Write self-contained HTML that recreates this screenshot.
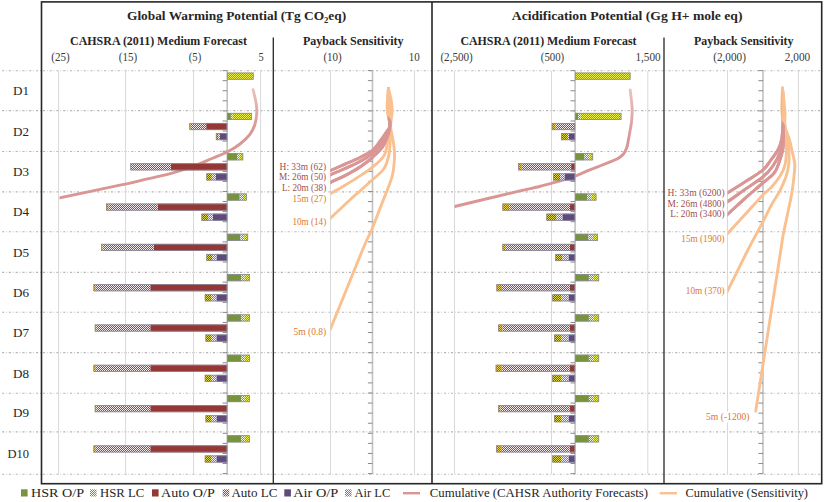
<!DOCTYPE html><html><head><meta charset="utf-8"><style>html,body{margin:0;padding:0;background:#fff;}svg{display:block;}</style></head><body><svg width="825" height="502" viewBox="0 0 825 502" font-family="Liberation Serif, serif">

<defs>
<pattern id="pY" width="2" height="2" patternUnits="userSpaceOnUse">
 <rect width="2" height="2" fill="#eef04c"/>
 <rect x="1" y="0" width="1" height="1" fill="#84a034"/>
 <rect x="0" y="1" width="1" height="1" fill="#84a034"/>
</pattern>
<pattern id="pHW" width="2" height="2" patternUnits="userSpaceOnUse">
 <rect width="2" height="2" fill="#f6f8f0"/>
 <rect x="1" y="0" width="1" height="1" fill="#77933c"/>
 <rect x="0" y="1" width="1" height="1" fill="#77933c"/>
</pattern>
<pattern id="pAP" width="2" height="2" patternUnits="userSpaceOnUse">
 <rect width="2" height="2" fill="#f6ecec"/>
 <rect x="1" y="0" width="1" height="1" fill="#b03c3c"/>
 <rect x="0" y="1" width="1" height="1" fill="#b03c3c"/>
</pattern>
<pattern id="pAY" width="2" height="2" patternUnits="userSpaceOnUse">
 <rect width="2" height="2" fill="#f2cc40"/>
 <rect x="1" y="0" width="1" height="1" fill="#c0502c"/>
 <rect x="0" y="1" width="1" height="1" fill="#c0502c"/>
</pattern>
<pattern id="pIY" width="2" height="2" patternUnits="userSpaceOnUse">
 <rect width="2" height="2" fill="#e8dc44"/>
 <rect x="1" y="0" width="1" height="1" fill="#5a4690"/>
 <rect x="0" y="1" width="1" height="1" fill="#5a4690"/>
</pattern>
<pattern id="pIW" width="2" height="2" patternUnits="userSpaceOnUse">
 <rect width="2" height="2" fill="#f6f2fa"/>
 <rect x="1" y="0" width="1" height="1" fill="#8470a8"/>
 <rect x="0" y="1" width="1" height="1" fill="#8470a8"/>
</pattern>
<linearGradient id="gG" gradientUnits="userSpaceOnUse" x1="0" y1="88" x2="0" y2="128">
 <stop offset="0" stop-color="#ecc2c1"/><stop offset="1" stop-color="#d99694"/>
</linearGradient>
<linearGradient id="gA" gradientUnits="userSpaceOnUse" x1="0" y1="88" x2="0" y2="140">
 <stop offset="0" stop-color="#ecc2c1"/><stop offset="1" stop-color="#d99694"/>
</linearGradient>
</defs>

<rect width="825" height="502" fill="#ffffff"/>
<line x1="2" y1="70.80" x2="821" y2="70.80" stroke="#b6b6b6" stroke-width="1.1" stroke-dasharray="2.2 1.8 0.7 2.1"/>
<line x1="2" y1="110.60" x2="821" y2="110.60" stroke="#b6b6b6" stroke-width="1.1" stroke-dasharray="2.2 1.8 0.7 2.1"/>
<line x1="2" y1="151.50" x2="821" y2="151.50" stroke="#b6b6b6" stroke-width="1.1" stroke-dasharray="2.2 1.8 0.7 2.1"/>
<line x1="2" y1="191.90" x2="821" y2="191.90" stroke="#b6b6b6" stroke-width="1.1" stroke-dasharray="2.2 1.8 0.7 2.1"/>
<line x1="2" y1="231.70" x2="821" y2="231.70" stroke="#b6b6b6" stroke-width="1.1" stroke-dasharray="2.2 1.8 0.7 2.1"/>
<line x1="2" y1="272.40" x2="821" y2="272.40" stroke="#b6b6b6" stroke-width="1.1" stroke-dasharray="2.2 1.8 0.7 2.1"/>
<line x1="2" y1="312.30" x2="821" y2="312.30" stroke="#b6b6b6" stroke-width="1.1" stroke-dasharray="2.2 1.8 0.7 2.1"/>
<line x1="2" y1="352.60" x2="821" y2="352.60" stroke="#b6b6b6" stroke-width="1.1" stroke-dasharray="2.2 1.8 0.7 2.1"/>
<line x1="2" y1="393.30" x2="821" y2="393.30" stroke="#b6b6b6" stroke-width="1.1" stroke-dasharray="2.2 1.8 0.7 2.1"/>
<line x1="2" y1="431.90" x2="821" y2="431.90" stroke="#b6b6b6" stroke-width="1.1" stroke-dasharray="2.2 1.8 0.7 2.1"/>
<line x1="2" y1="474.20" x2="821" y2="474.20" stroke="#b6b6b6" stroke-width="1.1" stroke-dasharray="2.2 1.8 0.7 2.1"/>
<line x1="58.6" y1="71" x2="58.6" y2="474" stroke="#d9d9d9" stroke-width="1"/>
<line x1="125.6" y1="71" x2="125.6" y2="474" stroke="#d9d9d9" stroke-width="1"/>
<line x1="193.5" y1="71" x2="193.5" y2="474" stroke="#d9d9d9" stroke-width="1"/>
<line x1="260.6" y1="71" x2="260.6" y2="474" stroke="#d9d9d9" stroke-width="1"/>
<line x1="330.5" y1="71" x2="330.5" y2="474" stroke="#d9d9d9" stroke-width="1"/>
<line x1="414.5" y1="71" x2="414.5" y2="474" stroke="#d9d9d9" stroke-width="1"/>
<line x1="454.5" y1="71" x2="454.5" y2="474" stroke="#d9d9d9" stroke-width="1"/>
<line x1="551.5" y1="71" x2="551.5" y2="474" stroke="#d9d9d9" stroke-width="1"/>
<line x1="647.8" y1="71" x2="647.8" y2="474" stroke="#d9d9d9" stroke-width="1"/>
<line x1="727.5" y1="71" x2="727.5" y2="474" stroke="#d9d9d9" stroke-width="1"/>
<line x1="798.4" y1="71" x2="798.4" y2="474" stroke="#d9d9d9" stroke-width="1"/>
<line x1="227.2" y1="70.6" x2="227.2" y2="474" stroke="#c2c2c2" stroke-width="1.6"/>
<path d="M222.6,70.60H227.2M222.6,80.67H227.2M222.6,90.75H227.2M222.6,100.82H227.2M222.6,110.90H227.2M222.6,120.97H227.2M222.6,131.05H227.2M222.6,141.12H227.2M222.6,151.20H227.2M222.6,161.27H227.2M222.6,171.35H227.2M222.6,181.42H227.2M222.6,191.50H227.2M222.6,201.57H227.2M222.6,211.65H227.2M222.6,221.72H227.2M222.6,231.80H227.2M222.6,241.87H227.2M222.6,251.95H227.2M222.6,262.02H227.2M222.6,272.10H227.2M222.6,282.17H227.2M222.6,292.25H227.2M222.6,302.32H227.2M222.6,312.40H227.2M222.6,322.47H227.2M222.6,332.55H227.2M222.6,342.62H227.2M222.6,352.70H227.2M222.6,362.77H227.2M222.6,372.85H227.2M222.6,382.92H227.2M222.6,393.00H227.2M222.6,403.07H227.2M222.6,413.15H227.2M222.6,423.23H227.2M222.6,433.30H227.2M222.6,443.38H227.2M222.6,453.45H227.2M222.6,463.52H227.2M222.6,473.60H227.2" stroke="#8a8a8a" stroke-width="1"/>
<line x1="372.5" y1="70.6" x2="372.5" y2="474" stroke="#c2c2c2" stroke-width="1.6"/>
<path d="M367.9,70.60H372.5M367.9,80.67H372.5M367.9,90.75H372.5M367.9,100.82H372.5M367.9,110.90H372.5M367.9,120.97H372.5M367.9,131.05H372.5M367.9,141.12H372.5M367.9,151.20H372.5M367.9,161.27H372.5M367.9,171.35H372.5M367.9,181.42H372.5M367.9,191.50H372.5M367.9,201.57H372.5M367.9,211.65H372.5M367.9,221.72H372.5M367.9,231.80H372.5M367.9,241.87H372.5M367.9,251.95H372.5M367.9,262.02H372.5M367.9,272.10H372.5M367.9,282.17H372.5M367.9,292.25H372.5M367.9,302.32H372.5M367.9,312.40H372.5M367.9,322.47H372.5M367.9,332.55H372.5M367.9,342.62H372.5M367.9,352.70H372.5M367.9,362.77H372.5M367.9,372.85H372.5M367.9,382.92H372.5M367.9,393.00H372.5M367.9,403.07H372.5M367.9,413.15H372.5M367.9,423.23H372.5M367.9,433.30H372.5M367.9,443.38H372.5M367.9,453.45H372.5M367.9,463.52H372.5M367.9,473.60H372.5" stroke="#8a8a8a" stroke-width="1"/>
<line x1="575.1" y1="70.6" x2="575.1" y2="474" stroke="#c2c2c2" stroke-width="1.6"/>
<path d="M570.5,70.60H575.1M570.5,80.67H575.1M570.5,90.75H575.1M570.5,100.82H575.1M570.5,110.90H575.1M570.5,120.97H575.1M570.5,131.05H575.1M570.5,141.12H575.1M570.5,151.20H575.1M570.5,161.27H575.1M570.5,171.35H575.1M570.5,181.42H575.1M570.5,191.50H575.1M570.5,201.57H575.1M570.5,211.65H575.1M570.5,221.72H575.1M570.5,231.80H575.1M570.5,241.87H575.1M570.5,251.95H575.1M570.5,262.02H575.1M570.5,272.10H575.1M570.5,282.17H575.1M570.5,292.25H575.1M570.5,302.32H575.1M570.5,312.40H575.1M570.5,322.47H575.1M570.5,332.55H575.1M570.5,342.62H575.1M570.5,352.70H575.1M570.5,362.77H575.1M570.5,372.85H575.1M570.5,382.92H575.1M570.5,393.00H575.1M570.5,403.07H575.1M570.5,413.15H575.1M570.5,423.23H575.1M570.5,433.30H575.1M570.5,443.38H575.1M570.5,453.45H575.1M570.5,463.52H575.1M570.5,473.60H575.1" stroke="#8a8a8a" stroke-width="1"/>
<line x1="763.0" y1="70.6" x2="763.0" y2="474" stroke="#c2c2c2" stroke-width="1.6"/>
<path d="M758.4,70.60H763.0M758.4,80.67H763.0M758.4,90.75H763.0M758.4,100.82H763.0M758.4,110.90H763.0M758.4,120.97H763.0M758.4,131.05H763.0M758.4,141.12H763.0M758.4,151.20H763.0M758.4,161.27H763.0M758.4,171.35H763.0M758.4,181.42H763.0M758.4,191.50H763.0M758.4,201.57H763.0M758.4,211.65H763.0M758.4,221.72H763.0M758.4,231.80H763.0M758.4,241.87H763.0M758.4,251.95H763.0M758.4,262.02H763.0M758.4,272.10H763.0M758.4,282.17H763.0M758.4,292.25H763.0M758.4,302.32H763.0M758.4,312.40H763.0M758.4,322.47H763.0M758.4,332.55H763.0M758.4,342.62H763.0M758.4,352.70H763.0M758.4,362.77H763.0M758.4,372.85H763.0M758.4,382.92H763.0M758.4,393.00H763.0M758.4,403.07H763.0M758.4,413.15H763.0M758.4,423.23H763.0M758.4,433.30H763.0M758.4,443.38H763.0M758.4,453.45H763.0M758.4,463.52H763.0M758.4,473.60H763.0" stroke="#8a8a8a" stroke-width="1"/>
<clipPath id="cg"><rect x="59.5" y="60" width="213" height="420"/></clipPath>
<clipPath id="cgs"><rect x="330.5" y="60" width="101" height="420"/></clipPath>
<clipPath id="ca"><rect x="454.6" y="60" width="209" height="420"/></clipPath>
<clipPath id="cas"><rect x="727.8" y="60" width="93" height="420"/></clipPath>
<path d="M253.10,89.60 C253.60,91.83 255.48,99.18 256.10,103.00 C256.72,106.82 257.00,108.92 256.80,112.50 C256.60,116.08 256.05,120.87 254.90,124.50 C253.75,128.13 252.38,131.05 249.90,134.30 C247.42,137.55 243.72,141.08 240.00,144.00 C236.28,146.92 232.27,149.38 227.60,151.80 C222.93,154.22 218.27,155.88 212.00,158.50 C205.73,161.12 197.25,164.88 190.00,167.50 C182.75,170.12 176.13,172.17 168.50,174.20 C160.87,176.23 152.28,177.87 144.20,179.70 C136.12,181.53 134.27,182.15 120.00,185.20 C105.73,188.25 70.27,195.53 58.60,198.00 C46.93,200.47 51.43,199.67 50.00,200.00" fill="none" stroke="url(#gG)" stroke-width="2.9" stroke-linecap="round" clip-path="url(#cg)"/>
<path d="M630.20,90.00 C630.43,92.00 631.27,98.50 631.60,102.00 C631.93,105.50 632.22,107.67 632.20,111.00 C632.18,114.33 631.87,118.67 631.50,122.00 C631.13,125.33 630.52,128.00 630.00,131.00 C629.48,134.00 628.93,137.25 628.40,140.00 C627.87,142.75 627.62,145.17 626.80,147.50 C625.98,149.83 625.05,152.13 623.50,154.00 C621.95,155.87 619.93,157.32 617.50,158.70 C615.07,160.08 612.32,160.90 608.90,162.30 C605.48,163.70 600.98,165.50 597.00,167.10 C593.02,168.70 588.53,170.43 585.00,171.90 C581.47,173.37 579.52,174.52 575.80,175.90 C572.08,177.28 566.67,179.00 562.70,180.20 C558.73,181.40 555.88,182.05 552.00,183.10 C548.12,184.15 544.73,185.20 539.40,186.50 C534.07,187.80 528.23,188.98 520.00,190.90 C511.77,192.82 500.88,195.40 490.00,198.00 C479.12,200.60 462.20,204.67 454.70,206.50 C447.20,208.33 446.62,208.58 445.00,209.00" fill="none" stroke="url(#gA)" stroke-width="2.9" stroke-linecap="round" clip-path="url(#ca)"/>
<rect x="227.20" y="72.60" width="26.40" height="7.1" fill="url(#pY)"/><rect x="227.60" y="73.00" width="25.60" height="6.30" fill="none" stroke="#8a8a9e" stroke-width="0.8"/>
<rect x="227.20" y="112.90" width="3.70" height="7.1" fill="#77933c"/><rect x="230.90" y="112.90" width="1.80" height="7.1" fill="url(#pHW)"/><rect x="232.70" y="112.90" width="19.10" height="7.1" fill="url(#pY)"/><rect x="227.60" y="113.30" width="23.80" height="6.30" fill="none" stroke="#8a8a9e" stroke-width="0.8"/>
<rect x="206.20" y="122.97" width="21.00" height="7.1" fill="#953735"/><rect x="190.60" y="122.97" width="15.60" height="7.1" fill="url(#pAP)"/><rect x="189.40" y="122.97" width="1.20" height="7.1" fill="url(#pAY)"/><rect x="189.80" y="123.38" width="37.00" height="6.30" fill="none" stroke="#8a8a9e" stroke-width="0.8"/>
<rect x="220.00" y="133.05" width="7.20" height="7.1" fill="#604a7b"/><rect x="218.20" y="133.05" width="1.80" height="7.1" fill="url(#pIW)"/><rect x="215.90" y="133.05" width="2.30" height="7.1" fill="url(#pIY)"/><rect x="216.30" y="133.45" width="10.50" height="6.30" fill="none" stroke="#8a8a9e" stroke-width="0.8"/>
<rect x="227.20" y="153.20" width="9.90" height="7.1" fill="#77933c"/><rect x="237.10" y="153.20" width="2.30" height="7.1" fill="url(#pHW)"/><rect x="239.40" y="153.20" width="3.80" height="7.1" fill="url(#pY)"/><rect x="227.60" y="153.60" width="15.20" height="6.30" fill="none" stroke="#8a8a9e" stroke-width="0.8"/>
<rect x="170.80" y="163.27" width="56.40" height="7.1" fill="#953735"/><rect x="130.30" y="163.27" width="40.50" height="7.1" fill="url(#pAP)"/><rect x="130.70" y="163.67" width="96.10" height="6.30" fill="none" stroke="#8a8a9e" stroke-width="0.8"/>
<rect x="216.00" y="173.35" width="11.20" height="7.1" fill="#604a7b"/><rect x="211.70" y="173.35" width="4.30" height="7.1" fill="url(#pIW)"/><rect x="206.40" y="173.35" width="5.30" height="7.1" fill="url(#pIY)"/><rect x="206.80" y="173.75" width="20.00" height="6.30" fill="none" stroke="#8a8a9e" stroke-width="0.8"/>
<rect x="227.20" y="193.50" width="12.50" height="7.1" fill="#77933c"/><rect x="239.70" y="193.50" width="3.30" height="7.1" fill="url(#pHW)"/><rect x="243.00" y="193.50" width="3.80" height="7.1" fill="url(#pY)"/><rect x="227.60" y="193.90" width="18.80" height="6.30" fill="none" stroke="#8a8a9e" stroke-width="0.8"/>
<rect x="157.70" y="203.57" width="69.50" height="7.1" fill="#953735"/><rect x="108.40" y="203.57" width="49.30" height="7.1" fill="url(#pAP)"/><rect x="106.00" y="203.57" width="2.40" height="7.1" fill="url(#pAY)"/><rect x="106.40" y="203.97" width="120.40" height="6.30" fill="none" stroke="#8a8a9e" stroke-width="0.8"/>
<rect x="212.80" y="213.65" width="14.40" height="7.1" fill="#604a7b"/><rect x="208.10" y="213.65" width="4.70" height="7.1" fill="url(#pIW)"/><rect x="201.50" y="213.65" width="6.60" height="7.1" fill="url(#pIY)"/><rect x="201.90" y="214.05" width="24.90" height="6.30" fill="none" stroke="#8a8a9e" stroke-width="0.8"/>
<rect x="227.20" y="233.80" width="13.10" height="7.1" fill="#77933c"/><rect x="240.30" y="233.80" width="4.00" height="7.1" fill="url(#pHW)"/><rect x="244.30" y="233.80" width="3.80" height="7.1" fill="url(#pY)"/><rect x="227.60" y="234.20" width="20.10" height="6.30" fill="none" stroke="#8a8a9e" stroke-width="0.8"/>
<rect x="153.70" y="243.87" width="73.50" height="7.1" fill="#953735"/><rect x="102.50" y="243.87" width="51.20" height="7.1" fill="url(#pAP)"/><rect x="101.20" y="243.87" width="1.30" height="7.1" fill="url(#pAY)"/><rect x="101.60" y="244.27" width="125.20" height="6.30" fill="none" stroke="#8a8a9e" stroke-width="0.8"/>
<rect x="216.50" y="253.95" width="10.70" height="7.1" fill="#604a7b"/><rect x="212.00" y="253.95" width="4.50" height="7.1" fill="url(#pIW)"/><rect x="206.40" y="253.95" width="5.60" height="7.1" fill="url(#pIY)"/><rect x="206.80" y="254.35" width="20.00" height="6.30" fill="none" stroke="#8a8a9e" stroke-width="0.8"/>
<rect x="227.20" y="274.10" width="14.00" height="7.1" fill="#77933c"/><rect x="241.20" y="274.10" width="3.50" height="7.1" fill="url(#pHW)"/><rect x="244.70" y="274.10" width="5.10" height="7.1" fill="url(#pY)"/><rect x="227.60" y="274.50" width="21.80" height="6.30" fill="none" stroke="#8a8a9e" stroke-width="0.8"/>
<rect x="150.30" y="284.18" width="76.90" height="7.1" fill="#953735"/><rect x="95.70" y="284.18" width="54.60" height="7.1" fill="url(#pAP)"/><rect x="93.50" y="284.18" width="2.20" height="7.1" fill="url(#pAY)"/><rect x="93.90" y="284.57" width="132.90" height="6.30" fill="none" stroke="#8a8a9e" stroke-width="0.8"/>
<rect x="216.40" y="294.25" width="10.80" height="7.1" fill="#604a7b"/><rect x="211.00" y="294.25" width="5.40" height="7.1" fill="url(#pIW)"/><rect x="204.80" y="294.25" width="6.20" height="7.1" fill="url(#pIY)"/><rect x="205.20" y="294.65" width="21.60" height="6.30" fill="none" stroke="#8a8a9e" stroke-width="0.8"/>
<rect x="227.20" y="314.40" width="14.00" height="7.1" fill="#77933c"/><rect x="241.20" y="314.40" width="3.50" height="7.1" fill="url(#pHW)"/><rect x="244.70" y="314.40" width="5.10" height="7.1" fill="url(#pY)"/><rect x="227.60" y="314.80" width="21.80" height="6.30" fill="none" stroke="#8a8a9e" stroke-width="0.8"/>
<rect x="150.30" y="324.47" width="76.90" height="7.1" fill="#953735"/><rect x="96.20" y="324.47" width="54.10" height="7.1" fill="url(#pAP)"/><rect x="94.80" y="324.47" width="1.40" height="7.1" fill="url(#pAY)"/><rect x="95.20" y="324.87" width="131.60" height="6.30" fill="none" stroke="#8a8a9e" stroke-width="0.8"/>
<rect x="216.40" y="334.55" width="10.80" height="7.1" fill="#604a7b"/><rect x="211.00" y="334.55" width="5.40" height="7.1" fill="url(#pIW)"/><rect x="205.50" y="334.55" width="5.50" height="7.1" fill="url(#pIY)"/><rect x="205.90" y="334.95" width="20.90" height="6.30" fill="none" stroke="#8a8a9e" stroke-width="0.8"/>
<rect x="227.20" y="354.70" width="14.00" height="7.1" fill="#77933c"/><rect x="241.20" y="354.70" width="3.50" height="7.1" fill="url(#pHW)"/><rect x="244.70" y="354.70" width="5.10" height="7.1" fill="url(#pY)"/><rect x="227.60" y="355.10" width="21.80" height="6.30" fill="none" stroke="#8a8a9e" stroke-width="0.8"/>
<rect x="150.30" y="364.77" width="76.90" height="7.1" fill="#953735"/><rect x="95.70" y="364.77" width="54.60" height="7.1" fill="url(#pAP)"/><rect x="93.50" y="364.77" width="2.20" height="7.1" fill="url(#pAY)"/><rect x="93.90" y="365.17" width="132.90" height="6.30" fill="none" stroke="#8a8a9e" stroke-width="0.8"/>
<rect x="216.40" y="374.85" width="10.80" height="7.1" fill="#604a7b"/><rect x="211.00" y="374.85" width="5.40" height="7.1" fill="url(#pIW)"/><rect x="204.80" y="374.85" width="6.20" height="7.1" fill="url(#pIY)"/><rect x="205.20" y="375.25" width="21.60" height="6.30" fill="none" stroke="#8a8a9e" stroke-width="0.8"/>
<rect x="227.20" y="395.00" width="14.00" height="7.1" fill="#77933c"/><rect x="241.20" y="395.00" width="3.50" height="7.1" fill="url(#pHW)"/><rect x="244.70" y="395.00" width="5.10" height="7.1" fill="url(#pY)"/><rect x="227.60" y="395.40" width="21.80" height="6.30" fill="none" stroke="#8a8a9e" stroke-width="0.8"/>
<rect x="150.30" y="405.07" width="76.90" height="7.1" fill="#953735"/><rect x="96.20" y="405.07" width="54.10" height="7.1" fill="url(#pAP)"/><rect x="94.80" y="405.07" width="1.40" height="7.1" fill="url(#pAY)"/><rect x="95.20" y="405.47" width="131.60" height="6.30" fill="none" stroke="#8a8a9e" stroke-width="0.8"/>
<rect x="216.40" y="415.15" width="10.80" height="7.1" fill="#604a7b"/><rect x="211.00" y="415.15" width="5.40" height="7.1" fill="url(#pIW)"/><rect x="205.50" y="415.15" width="5.50" height="7.1" fill="url(#pIY)"/><rect x="205.90" y="415.55" width="20.90" height="6.30" fill="none" stroke="#8a8a9e" stroke-width="0.8"/>
<rect x="227.20" y="435.30" width="14.00" height="7.1" fill="#77933c"/><rect x="241.20" y="435.30" width="3.50" height="7.1" fill="url(#pHW)"/><rect x="244.70" y="435.30" width="5.10" height="7.1" fill="url(#pY)"/><rect x="227.60" y="435.70" width="21.80" height="6.30" fill="none" stroke="#8a8a9e" stroke-width="0.8"/>
<rect x="150.30" y="445.37" width="76.90" height="7.1" fill="#953735"/><rect x="95.70" y="445.37" width="54.60" height="7.1" fill="url(#pAP)"/><rect x="93.50" y="445.37" width="2.20" height="7.1" fill="url(#pAY)"/><rect x="93.90" y="445.77" width="132.90" height="6.30" fill="none" stroke="#8a8a9e" stroke-width="0.8"/>
<rect x="216.40" y="455.45" width="10.80" height="7.1" fill="#604a7b"/><rect x="211.00" y="455.45" width="5.40" height="7.1" fill="url(#pIW)"/><rect x="204.80" y="455.45" width="6.20" height="7.1" fill="url(#pIY)"/><rect x="205.20" y="455.85" width="21.60" height="6.30" fill="none" stroke="#8a8a9e" stroke-width="0.8"/>
<rect x="575.10" y="72.60" width="55.40" height="7.1" fill="url(#pY)"/><rect x="575.50" y="73.00" width="54.60" height="6.30" fill="none" stroke="#8a8a9e" stroke-width="0.8"/>
<rect x="575.10" y="112.90" width="3.00" height="7.1" fill="#77933c"/><rect x="578.10" y="112.90" width="2.40" height="7.1" fill="url(#pHW)"/><rect x="580.50" y="112.90" width="40.90" height="7.1" fill="url(#pY)"/><rect x="575.50" y="113.30" width="45.50" height="6.30" fill="none" stroke="#8a8a9e" stroke-width="0.8"/>
<rect x="574.30" y="122.97" width="0.80" height="7.1" fill="#953735"/><rect x="555.50" y="122.97" width="18.80" height="7.1" fill="url(#pAP)"/><rect x="551.80" y="122.97" width="3.70" height="7.1" fill="url(#pAY)"/><rect x="552.20" y="123.38" width="22.50" height="6.30" fill="none" stroke="#8a8a9e" stroke-width="0.8"/>
<rect x="569.00" y="133.05" width="6.10" height="7.1" fill="#604a7b"/><rect x="567.80" y="133.05" width="1.20" height="7.1" fill="url(#pIW)"/><rect x="561.20" y="133.05" width="6.60" height="7.1" fill="url(#pIY)"/><rect x="561.60" y="133.45" width="13.10" height="6.30" fill="none" stroke="#8a8a9e" stroke-width="0.8"/>
<rect x="575.10" y="153.20" width="9.40" height="7.1" fill="#77933c"/><rect x="584.50" y="153.20" width="5.10" height="7.1" fill="url(#pHW)"/><rect x="589.60" y="153.20" width="3.50" height="7.1" fill="url(#pY)"/><rect x="575.50" y="153.60" width="17.20" height="6.30" fill="none" stroke="#8a8a9e" stroke-width="0.8"/>
<rect x="571.10" y="163.27" width="4.00" height="7.1" fill="#953735"/><rect x="521.80" y="163.27" width="49.30" height="7.1" fill="url(#pAP)"/><rect x="518.20" y="163.27" width="3.60" height="7.1" fill="url(#pAY)"/><rect x="518.60" y="163.67" width="56.10" height="6.30" fill="none" stroke="#8a8a9e" stroke-width="0.8"/>
<rect x="564.50" y="173.35" width="10.60" height="7.1" fill="#604a7b"/><rect x="560.00" y="173.35" width="4.50" height="7.1" fill="url(#pIW)"/><rect x="553.10" y="173.35" width="6.90" height="7.1" fill="url(#pIY)"/><rect x="553.50" y="173.75" width="21.20" height="6.30" fill="none" stroke="#8a8a9e" stroke-width="0.8"/>
<rect x="575.10" y="193.50" width="12.20" height="7.1" fill="#77933c"/><rect x="587.30" y="193.50" width="4.50" height="7.1" fill="url(#pHW)"/><rect x="591.80" y="193.50" width="4.60" height="7.1" fill="url(#pY)"/><rect x="575.50" y="193.90" width="20.50" height="6.30" fill="none" stroke="#8a8a9e" stroke-width="0.8"/>
<rect x="570.00" y="203.57" width="5.10" height="7.1" fill="#953735"/><rect x="509.10" y="203.57" width="60.90" height="7.1" fill="url(#pAP)"/><rect x="502.40" y="203.57" width="6.70" height="7.1" fill="url(#pAY)"/><rect x="502.80" y="203.97" width="71.90" height="6.30" fill="none" stroke="#8a8a9e" stroke-width="0.8"/>
<rect x="562.40" y="213.65" width="12.70" height="7.1" fill="#604a7b"/><rect x="556.40" y="213.65" width="6.00" height="7.1" fill="url(#pIW)"/><rect x="546.40" y="213.65" width="10.00" height="7.1" fill="url(#pIY)"/><rect x="546.80" y="214.05" width="27.90" height="6.30" fill="none" stroke="#8a8a9e" stroke-width="0.8"/>
<rect x="575.10" y="233.80" width="13.30" height="7.1" fill="#77933c"/><rect x="588.40" y="233.80" width="4.50" height="7.1" fill="url(#pHW)"/><rect x="592.90" y="233.80" width="5.00" height="7.1" fill="url(#pY)"/><rect x="575.50" y="234.20" width="22.00" height="6.30" fill="none" stroke="#8a8a9e" stroke-width="0.8"/>
<rect x="569.70" y="243.87" width="5.40" height="7.1" fill="#953735"/><rect x="505.70" y="243.87" width="64.00" height="7.1" fill="url(#pAP)"/><rect x="502.40" y="243.87" width="3.30" height="7.1" fill="url(#pAY)"/><rect x="502.80" y="244.27" width="71.90" height="6.30" fill="none" stroke="#8a8a9e" stroke-width="0.8"/>
<rect x="568.50" y="253.95" width="6.60" height="7.1" fill="#604a7b"/><rect x="562.20" y="253.95" width="6.30" height="7.1" fill="url(#pIW)"/><rect x="555.30" y="253.95" width="6.90" height="7.1" fill="url(#pIY)"/><rect x="555.70" y="254.35" width="19.00" height="6.30" fill="none" stroke="#8a8a9e" stroke-width="0.8"/>
<rect x="575.10" y="274.10" width="13.80" height="7.1" fill="#77933c"/><rect x="588.90" y="274.10" width="5.00" height="7.1" fill="url(#pHW)"/><rect x="593.90" y="274.10" width="5.20" height="7.1" fill="url(#pY)"/><rect x="575.50" y="274.50" width="23.20" height="6.30" fill="none" stroke="#8a8a9e" stroke-width="0.8"/>
<rect x="569.70" y="284.18" width="5.40" height="7.1" fill="#953735"/><rect x="501.90" y="284.18" width="67.80" height="7.1" fill="url(#pAP)"/><rect x="496.40" y="284.18" width="5.50" height="7.1" fill="url(#pAY)"/><rect x="496.80" y="284.57" width="77.90" height="6.30" fill="none" stroke="#8a8a9e" stroke-width="0.8"/>
<rect x="568.50" y="294.25" width="6.60" height="7.1" fill="#604a7b"/><rect x="561.00" y="294.25" width="7.50" height="7.1" fill="url(#pIW)"/><rect x="552.30" y="294.25" width="8.70" height="7.1" fill="url(#pIY)"/><rect x="552.70" y="294.65" width="22.00" height="6.30" fill="none" stroke="#8a8a9e" stroke-width="0.8"/>
<rect x="575.10" y="314.40" width="13.80" height="7.1" fill="#77933c"/><rect x="588.90" y="314.40" width="5.00" height="7.1" fill="url(#pHW)"/><rect x="593.90" y="314.40" width="5.20" height="7.1" fill="url(#pY)"/><rect x="575.50" y="314.80" width="23.20" height="6.30" fill="none" stroke="#8a8a9e" stroke-width="0.8"/>
<rect x="569.70" y="324.47" width="5.40" height="7.1" fill="#953735"/><rect x="502.40" y="324.47" width="67.30" height="7.1" fill="url(#pAP)"/><rect x="498.20" y="324.47" width="4.20" height="7.1" fill="url(#pAY)"/><rect x="498.60" y="324.87" width="76.10" height="6.30" fill="none" stroke="#8a8a9e" stroke-width="0.8"/>
<rect x="568.50" y="334.55" width="6.60" height="7.1" fill="#604a7b"/><rect x="561.00" y="334.55" width="7.50" height="7.1" fill="url(#pIW)"/><rect x="554.00" y="334.55" width="7.00" height="7.1" fill="url(#pIY)"/><rect x="554.40" y="334.95" width="20.30" height="6.30" fill="none" stroke="#8a8a9e" stroke-width="0.8"/>
<rect x="575.10" y="354.70" width="13.80" height="7.1" fill="#77933c"/><rect x="588.90" y="354.70" width="5.00" height="7.1" fill="url(#pHW)"/><rect x="593.90" y="354.70" width="5.20" height="7.1" fill="url(#pY)"/><rect x="575.50" y="355.10" width="23.20" height="6.30" fill="none" stroke="#8a8a9e" stroke-width="0.8"/>
<rect x="569.70" y="364.77" width="5.40" height="7.1" fill="#953735"/><rect x="501.70" y="364.77" width="68.00" height="7.1" fill="url(#pAP)"/><rect x="495.70" y="364.77" width="6.00" height="7.1" fill="url(#pAY)"/><rect x="496.10" y="365.17" width="78.60" height="6.30" fill="none" stroke="#8a8a9e" stroke-width="0.8"/>
<rect x="568.50" y="374.85" width="6.60" height="7.1" fill="#604a7b"/><rect x="561.00" y="374.85" width="7.50" height="7.1" fill="url(#pIW)"/><rect x="552.30" y="374.85" width="8.70" height="7.1" fill="url(#pIY)"/><rect x="552.70" y="375.25" width="22.00" height="6.30" fill="none" stroke="#8a8a9e" stroke-width="0.8"/>
<rect x="575.10" y="395.00" width="13.80" height="7.1" fill="#77933c"/><rect x="588.90" y="395.00" width="5.00" height="7.1" fill="url(#pHW)"/><rect x="593.90" y="395.00" width="5.20" height="7.1" fill="url(#pY)"/><rect x="575.50" y="395.40" width="23.20" height="6.30" fill="none" stroke="#8a8a9e" stroke-width="0.8"/>
<rect x="569.70" y="405.07" width="5.40" height="7.1" fill="#953735"/><rect x="500.50" y="405.07" width="69.20" height="7.1" fill="url(#pAP)"/><rect x="498.20" y="405.07" width="2.30" height="7.1" fill="url(#pAY)"/><rect x="498.60" y="405.47" width="76.10" height="6.30" fill="none" stroke="#8a8a9e" stroke-width="0.8"/>
<rect x="568.50" y="415.15" width="6.60" height="7.1" fill="#604a7b"/><rect x="561.00" y="415.15" width="7.50" height="7.1" fill="url(#pIW)"/><rect x="554.00" y="415.15" width="7.00" height="7.1" fill="url(#pIY)"/><rect x="554.40" y="415.55" width="20.30" height="6.30" fill="none" stroke="#8a8a9e" stroke-width="0.8"/>
<rect x="575.10" y="435.30" width="13.80" height="7.1" fill="#77933c"/><rect x="588.90" y="435.30" width="5.00" height="7.1" fill="url(#pHW)"/><rect x="593.90" y="435.30" width="5.20" height="7.1" fill="url(#pY)"/><rect x="575.50" y="435.70" width="23.20" height="6.30" fill="none" stroke="#8a8a9e" stroke-width="0.8"/>
<rect x="569.70" y="445.37" width="5.40" height="7.1" fill="#953735"/><rect x="501.70" y="445.37" width="68.00" height="7.1" fill="url(#pAP)"/><rect x="496.20" y="445.37" width="5.50" height="7.1" fill="url(#pAY)"/><rect x="496.60" y="445.77" width="78.10" height="6.30" fill="none" stroke="#8a8a9e" stroke-width="0.8"/>
<rect x="568.50" y="455.45" width="6.60" height="7.1" fill="#604a7b"/><rect x="561.00" y="455.45" width="7.50" height="7.1" fill="url(#pIW)"/><rect x="552.30" y="455.45" width="8.70" height="7.1" fill="url(#pIY)"/><rect x="552.70" y="455.85" width="22.00" height="6.30" fill="none" stroke="#8a8a9e" stroke-width="0.8"/>
<clipPath id="cgs2"><polygon points="330.5,479 330.5,60 384,60 386,114 396,126 432,126 432,479"/></clipPath>
<path d="M388.40,88.60 C388.38,90.50 388.25,96.27 388.25,100.00 C388.25,103.73 388.18,106.67 388.40,111.00 C388.63,115.33 389.87,122.58 389.60,126.00 C389.33,129.42 388.48,128.83 386.80,131.50 C385.12,134.17 381.88,138.87 379.50,142.00 C377.12,145.13 375.75,147.72 372.50,150.30 C369.25,152.88 364.58,155.18 360.00,157.50 C355.42,159.82 349.92,162.03 345.00,164.20 C340.08,166.37 334.67,168.70 330.50,170.50 C326.33,172.30 321.75,174.25 320.00,175.00" fill="none" stroke="#d99694" stroke-width="2.9" stroke-linecap="round" clip-path="url(#cgs)"/>
<path d="M388.40,88.60 C388.47,90.50 388.72,96.27 388.85,100.00 C388.98,103.73 389.04,106.58 389.20,111.00 C389.36,115.42 390.08,122.83 389.80,126.50 C389.52,130.17 388.97,130.00 387.50,133.00 C386.03,136.00 383.50,141.12 381.00,144.50 C378.50,147.88 376.00,150.47 372.50,153.30 C369.00,156.13 364.58,158.97 360.00,161.50 C355.42,164.03 349.92,166.28 345.00,168.50 C340.08,170.72 334.67,172.97 330.50,174.80 C326.33,176.63 321.75,178.72 320.00,179.50" fill="none" stroke="#d99694" stroke-width="2.9" stroke-linecap="round" clip-path="url(#cgs)"/>
<path d="M388.40,88.60 C388.57,90.50 389.18,96.27 389.45,100.00 C389.72,103.73 389.91,106.50 390.00,111.00 C390.09,115.50 390.28,123.08 390.00,127.00 C389.72,130.92 389.55,131.17 388.30,134.50 C387.05,137.83 385.13,143.20 382.50,147.00 C379.87,150.80 376.25,153.97 372.50,157.30 C368.75,160.63 364.58,163.95 360.00,167.00 C355.42,170.05 349.92,173.03 345.00,175.60 C340.08,178.17 334.67,180.33 330.50,182.40 C326.33,184.47 321.75,187.07 320.00,188.00" fill="none" stroke="#d99694" stroke-width="2.9" stroke-linecap="round" clip-path="url(#cgs)"/>
<path d="M388.40,88.60 C388.24,90.50 387.61,96.27 387.42,100.00 C387.24,103.73 386.84,106.58 387.30,111.00 C387.76,115.42 390.05,121.83 390.20,126.50 C390.35,131.17 389.25,134.10 388.20,139.00 C387.15,143.90 386.53,151.22 383.90,155.90 C381.27,160.58 376.38,163.77 372.40,167.10 C368.42,170.43 364.92,172.65 360.00,175.90 C355.08,179.15 347.82,183.65 342.90,186.60 C337.98,189.55 334.32,191.37 330.50,193.60 C326.68,195.83 321.75,198.93 320.00,200.00" fill="none" stroke="#fac090" stroke-width="2.9" stroke-linecap="round" clip-path="url(#cgs)"/>
<path d="M388.40,88.60 C388.55,90.50 389.07,96.27 389.30,100.00 C389.53,103.73 389.62,106.58 389.80,111.00 C389.98,115.42 390.32,121.67 390.40,126.50 C390.48,131.33 390.58,135.10 390.30,140.00 C390.02,144.90 389.77,151.12 388.70,155.90 C387.63,160.68 386.62,164.72 383.90,168.70 C381.18,172.68 376.38,176.08 372.40,179.80 C368.42,183.52 363.72,187.68 360.00,191.00 C356.28,194.32 355.02,195.18 350.10,199.70 C345.18,204.22 335.52,213.38 330.50,218.10 C325.48,222.82 321.75,226.35 320.00,228.00" fill="none" stroke="#fac090" stroke-width="2.9" stroke-linecap="round" clip-path="url(#cgs)"/>
<path d="M388.40,88.60 C388.85,90.50 390.47,96.27 391.10,100.00 C391.73,103.73 392.28,106.58 392.20,111.00 C392.12,115.42 390.47,121.67 390.60,126.50 C390.73,131.33 392.37,135.92 393.00,140.00 C393.63,144.08 394.18,147.50 394.40,151.00 C394.62,154.50 394.60,157.08 394.30,161.00 C394.00,164.92 393.65,169.95 392.60,174.50 C391.55,179.05 389.68,183.72 388.00,188.30 C386.32,192.88 384.35,197.32 382.50,202.00 C380.65,206.68 378.77,211.60 376.90,216.40 C375.03,221.20 373.70,225.20 371.30,230.80 C368.90,236.40 369.30,233.63 362.50,250.00 C355.70,266.37 335.83,315.83 330.50,329.00" fill="none" stroke="#fac090" stroke-width="2.9" stroke-linecap="round" clip-path="url(#cgs)"/>
<path d="M388.40,88.60 C388.38,90.50 388.25,96.27 388.25,100.00 C388.25,103.73 388.18,106.67 388.40,111.00 C388.63,115.33 389.87,122.58 389.60,126.00 C389.33,129.42 388.48,128.83 386.80,131.50 C385.12,134.17 381.88,138.87 379.50,142.00 C377.12,145.13 375.75,147.72 372.50,150.30 C369.25,152.88 364.58,155.18 360.00,157.50 C355.42,159.82 349.92,162.03 345.00,164.20 C340.08,166.37 334.67,168.70 330.50,170.50 C326.33,172.30 321.75,174.25 320.00,175.00" fill="none" stroke="#d99694" stroke-width="2.9" stroke-linecap="round" clip-path="url(#cgs2)"/>
<path d="M388.40,88.60 C388.47,90.50 388.72,96.27 388.85,100.00 C388.98,103.73 389.04,106.58 389.20,111.00 C389.36,115.42 390.08,122.83 389.80,126.50 C389.52,130.17 388.97,130.00 387.50,133.00 C386.03,136.00 383.50,141.12 381.00,144.50 C378.50,147.88 376.00,150.47 372.50,153.30 C369.00,156.13 364.58,158.97 360.00,161.50 C355.42,164.03 349.92,166.28 345.00,168.50 C340.08,170.72 334.67,172.97 330.50,174.80 C326.33,176.63 321.75,178.72 320.00,179.50" fill="none" stroke="#d99694" stroke-width="2.9" stroke-linecap="round" clip-path="url(#cgs2)"/>
<path d="M388.40,88.60 C388.57,90.50 389.18,96.27 389.45,100.00 C389.72,103.73 389.91,106.50 390.00,111.00 C390.09,115.50 390.28,123.08 390.00,127.00 C389.72,130.92 389.55,131.17 388.30,134.50 C387.05,137.83 385.13,143.20 382.50,147.00 C379.87,150.80 376.25,153.97 372.50,157.30 C368.75,160.63 364.58,163.95 360.00,167.00 C355.42,170.05 349.92,173.03 345.00,175.60 C340.08,178.17 334.67,180.33 330.50,182.40 C326.33,184.47 321.75,187.07 320.00,188.00" fill="none" stroke="#d99694" stroke-width="2.9" stroke-linecap="round" clip-path="url(#cgs2)"/>
<clipPath id="cas2"><polygon points="727.5,479 727.5,60 780.5,60 781.5,120 790,134 822,134 822,479"/></clipPath>
<path d="M782.50,88.20 C782.50,90.17 782.45,95.87 782.50,100.00 C782.55,104.13 782.72,109.00 782.80,113.00 C782.88,117.00 783.22,119.50 783.00,124.00 C782.78,128.50 782.35,135.67 781.50,140.00 C780.65,144.33 779.67,146.67 777.90,150.00 C776.13,153.33 773.40,156.67 770.90,160.00 C768.40,163.33 767.22,166.35 762.90,170.00 C758.58,173.65 750.92,178.08 745.00,181.90 C739.08,185.72 731.90,190.22 727.40,192.90 C722.90,195.58 719.57,197.15 718.00,198.00" fill="none" stroke="#d99694" stroke-width="2.9" stroke-linecap="round" clip-path="url(#cas)"/>
<path d="M782.50,88.20 C782.56,90.17 782.71,95.87 782.86,100.00 C783.01,104.13 783.34,108.83 783.40,113.00 C783.46,117.17 783.35,120.17 783.20,125.00 C783.05,129.83 782.98,137.50 782.50,142.00 C782.02,146.50 781.90,148.00 780.30,152.00 C778.70,156.00 775.80,161.85 772.90,166.00 C770.00,170.15 767.55,173.00 762.90,176.90 C758.25,180.80 750.92,185.25 745.00,189.40 C739.08,193.55 731.90,198.87 727.40,201.80 C722.90,204.73 719.57,206.13 718.00,207.00" fill="none" stroke="#d99694" stroke-width="2.9" stroke-linecap="round" clip-path="url(#cas)"/>
<path d="M782.50,88.20 C782.62,90.17 782.97,95.87 783.22,100.00 C783.47,104.13 783.97,108.67 784.00,113.00 C784.03,117.33 783.52,120.83 783.40,126.00 C783.28,131.17 783.53,139.50 783.30,144.00 C783.07,148.50 783.40,148.33 782.00,153.00 C780.60,157.67 778.08,167.02 774.90,172.00 C771.72,176.98 767.88,178.50 762.90,182.90 C757.92,187.30 750.92,193.15 745.00,198.40 C739.08,203.65 731.90,210.47 727.40,214.40 C722.90,218.33 719.57,220.73 718.00,222.00" fill="none" stroke="#d99694" stroke-width="2.9" stroke-linecap="round" clip-path="url(#cas)"/>
<path d="M782.50,88.20 C782.42,90.17 782.10,95.87 782.02,100.00 C781.94,104.13 781.59,108.67 782.00,113.00 C782.41,117.33 783.80,121.50 784.50,126.00 C785.20,130.50 785.87,135.78 786.20,140.00 C786.53,144.22 786.70,147.17 786.50,151.30 C786.30,155.43 786.07,160.68 785.00,164.80 C783.93,168.92 782.37,172.27 780.10,176.00 C777.83,179.73 774.27,184.05 771.40,187.20 C768.53,190.35 767.30,190.33 762.90,194.90 C758.50,199.47 750.92,208.12 745.00,214.60 C739.08,221.08 731.90,228.98 727.40,233.80 C722.90,238.62 719.57,241.88 718.00,243.50" fill="none" stroke="#fac090" stroke-width="2.9" stroke-linecap="round" clip-path="url(#cas)"/>
<path d="M782.50,88.20 C782.59,90.17 782.84,95.87 783.04,100.00 C783.24,104.13 783.41,108.67 783.70,113.00 C783.99,117.33 784.17,121.50 784.80,126.00 C785.43,130.50 786.82,135.78 787.50,140.00 C788.18,144.22 788.70,147.17 788.90,151.30 C789.10,155.43 789.23,160.42 788.70,164.80 C788.17,169.18 787.27,173.08 785.70,177.60 C784.13,182.12 781.68,187.33 779.30,191.90 C776.92,196.47 774.13,200.02 771.40,205.00 C768.67,209.98 766.82,214.30 762.90,221.80 C758.98,229.30 753.80,238.47 747.90,250.00 C742.00,261.53 732.15,281.83 727.50,291.00 C722.85,300.17 721.25,302.67 720.00,305.00" fill="none" stroke="#fac090" stroke-width="2.9" stroke-linecap="round" clip-path="url(#cas)"/>
<path d="M782.50,88.20 C782.72,90.17 783.40,95.87 783.82,100.00 C784.24,104.13 784.80,108.67 785.00,113.00 C785.20,117.33 784.25,121.50 785.00,126.00 C785.75,130.50 788.32,135.78 789.50,140.00 C790.68,144.22 791.27,147.68 792.10,151.30 C792.93,154.92 794.08,158.58 794.50,161.70 C794.92,164.82 795.00,165.03 794.60,170.00 C794.20,174.97 793.30,184.03 792.10,191.50 C790.90,198.97 788.93,207.32 787.40,214.80 C785.87,222.28 784.25,228.87 782.90,236.40 C781.55,243.93 783.83,230.88 779.30,260.00 C774.77,289.12 759.63,385.92 755.70,411.10" fill="none" stroke="#fac090" stroke-width="2.9" stroke-linecap="round" clip-path="url(#cas)"/>
<path d="M782.50,88.20 C782.50,90.17 782.45,95.87 782.50,100.00 C782.55,104.13 782.72,109.00 782.80,113.00 C782.88,117.00 783.22,119.50 783.00,124.00 C782.78,128.50 782.35,135.67 781.50,140.00 C780.65,144.33 779.67,146.67 777.90,150.00 C776.13,153.33 773.40,156.67 770.90,160.00 C768.40,163.33 767.22,166.35 762.90,170.00 C758.58,173.65 750.92,178.08 745.00,181.90 C739.08,185.72 731.90,190.22 727.40,192.90 C722.90,195.58 719.57,197.15 718.00,198.00" fill="none" stroke="#d99694" stroke-width="2.9" stroke-linecap="round" clip-path="url(#cas2)"/>
<path d="M782.50,88.20 C782.56,90.17 782.71,95.87 782.86,100.00 C783.01,104.13 783.34,108.83 783.40,113.00 C783.46,117.17 783.35,120.17 783.20,125.00 C783.05,129.83 782.98,137.50 782.50,142.00 C782.02,146.50 781.90,148.00 780.30,152.00 C778.70,156.00 775.80,161.85 772.90,166.00 C770.00,170.15 767.55,173.00 762.90,176.90 C758.25,180.80 750.92,185.25 745.00,189.40 C739.08,193.55 731.90,198.87 727.40,201.80 C722.90,204.73 719.57,206.13 718.00,207.00" fill="none" stroke="#d99694" stroke-width="2.9" stroke-linecap="round" clip-path="url(#cas2)"/>
<path d="M782.50,88.20 C782.62,90.17 782.97,95.87 783.22,100.00 C783.47,104.13 783.97,108.67 784.00,113.00 C784.03,117.33 783.52,120.83 783.40,126.00 C783.28,131.17 783.53,139.50 783.30,144.00 C783.07,148.50 783.40,148.33 782.00,153.00 C780.60,157.67 778.08,167.02 774.90,172.00 C771.72,176.98 767.88,178.50 762.90,182.90 C757.92,187.30 750.92,193.15 745.00,198.40 C739.08,203.65 731.90,210.47 727.40,214.40 C722.90,218.33 719.57,220.73 718.00,222.00" fill="none" stroke="#d99694" stroke-width="2.9" stroke-linecap="round" clip-path="url(#cas2)"/>
<g stroke="#262626" fill="none">
<rect x="41.5" y="1.9" width="780.2" height="481.8" stroke-width="1.6"/>
<line x1="432" y1="1.9" x2="432" y2="483.7" stroke-width="1.6"/>
<line x1="273.3" y1="37.4" x2="273.3" y2="483.7" stroke-width="1.3"/>
<line x1="664" y1="37.4" x2="664" y2="483.7" stroke-width="1.3"/>
</g>
<text x="127.00" y="20.30" font-size="13.2" font-weight="bold" fill="#262626" textLength="219.20" lengthAdjust="spacingAndGlyphs">Global Warming Potential (Tg CO<tspan font-size="8.5" dy="2.8">2</tspan><tspan dy="-2.8">eq)</tspan></text>
<text x="511.80" y="20.30" font-size="13.2" font-weight="bold" fill="#262626" textLength="230.70" lengthAdjust="spacingAndGlyphs">Acidification Potential (Gg H+ mole eq)</text>
<text x="70.00" y="45.00" font-size="11.8" font-weight="bold" fill="#262626" textLength="177.00" lengthAdjust="spacingAndGlyphs">CAHSRA (2011) Medium Forecast</text>
<text x="303.00" y="45.00" font-size="11.8" font-weight="bold" fill="#262626" textLength="100.50" lengthAdjust="spacingAndGlyphs">Payback Sensitivity</text>
<text x="460.40" y="45.00" font-size="11.8" font-weight="bold" fill="#262626" textLength="176.20" lengthAdjust="spacingAndGlyphs">CAHSRA (2011) Medium Forecast</text>
<text x="694.00" y="45.00" font-size="11.8" font-weight="bold" fill="#262626" textLength="99.50" lengthAdjust="spacingAndGlyphs">Payback Sensitivity</text>
<text x="51.30" y="60.70" font-size="11.6" font-weight="normal" fill="#3a3a3a" textLength="18.40" lengthAdjust="spacingAndGlyphs">(25)</text>
<text x="118.80" y="60.70" font-size="11.6" font-weight="normal" fill="#3a3a3a" textLength="18.40" lengthAdjust="spacingAndGlyphs">(15)</text>
<text x="188.80" y="60.70" font-size="11.6" font-weight="normal" fill="#3a3a3a" textLength="12.40" lengthAdjust="spacingAndGlyphs">(5)</text>
<text x="258.40" y="60.70" font-size="11.6" font-weight="normal" fill="#3a3a3a" textLength="5.20" lengthAdjust="spacingAndGlyphs">5</text>
<text x="323.40" y="60.70" font-size="11.6" font-weight="normal" fill="#3a3a3a" textLength="18.40" lengthAdjust="spacingAndGlyphs">(10)</text>
<text x="408.80" y="60.70" font-size="11.6" font-weight="normal" fill="#3a3a3a" textLength="11.00" lengthAdjust="spacingAndGlyphs">10</text>
<text x="440.40" y="60.70" font-size="11.6" font-weight="normal" fill="#3a3a3a" textLength="32.40" lengthAdjust="spacingAndGlyphs">(2,500)</text>
<text x="540.80" y="60.70" font-size="11.6" font-weight="normal" fill="#3a3a3a" textLength="23.40" lengthAdjust="spacingAndGlyphs">(500)</text>
<text x="635.40" y="60.70" font-size="11.6" font-weight="normal" fill="#3a3a3a" textLength="25.20" lengthAdjust="spacingAndGlyphs">1,500</text>
<text x="713.20" y="60.70" font-size="11.6" font-weight="normal" fill="#3a3a3a" textLength="32.80" lengthAdjust="spacingAndGlyphs">(2,000)</text>
<text x="784.80" y="60.70" font-size="11.6" font-weight="normal" fill="#3a3a3a" textLength="25.40" lengthAdjust="spacingAndGlyphs">2,000</text>
<text x="13.00" y="95.30" font-size="13.2" font-weight="normal" fill="#262626" textLength="16.00" lengthAdjust="spacingAndGlyphs">D1</text>
<text x="13.00" y="135.65" font-size="13.2" font-weight="normal" fill="#262626" textLength="16.00" lengthAdjust="spacingAndGlyphs">D2</text>
<text x="13.00" y="176.30" font-size="13.2" font-weight="normal" fill="#262626" textLength="16.00" lengthAdjust="spacingAndGlyphs">D3</text>
<text x="13.00" y="216.40" font-size="13.2" font-weight="normal" fill="#262626" textLength="16.00" lengthAdjust="spacingAndGlyphs">D4</text>
<text x="13.00" y="256.65" font-size="13.2" font-weight="normal" fill="#262626" textLength="16.00" lengthAdjust="spacingAndGlyphs">D5</text>
<text x="13.00" y="296.95" font-size="13.2" font-weight="normal" fill="#262626" textLength="16.00" lengthAdjust="spacingAndGlyphs">D6</text>
<text x="13.00" y="337.05" font-size="13.2" font-weight="normal" fill="#262626" textLength="16.00" lengthAdjust="spacingAndGlyphs">D7</text>
<text x="13.00" y="377.55" font-size="13.2" font-weight="normal" fill="#262626" textLength="16.00" lengthAdjust="spacingAndGlyphs">D8</text>
<text x="13.00" y="417.20" font-size="13.2" font-weight="normal" fill="#262626" textLength="16.00" lengthAdjust="spacingAndGlyphs">D9</text>
<text x="7.50" y="457.65" font-size="13.2" font-weight="normal" fill="#262626" textLength="21.50" lengthAdjust="spacingAndGlyphs">D10</text>
<rect x="21" y="489.3" width="6.6" height="7.2" fill="#77933c"/>
<text x="31.00" y="496.80" font-size="13.5" font-weight="normal" fill="#262626" textLength="53.20" lengthAdjust="spacingAndGlyphs">HSR O/P</text>
<rect x="90" y="489.3" width="6.6" height="7.2" fill="url(#pHW)"/>
<text x="100.00" y="496.80" font-size="13.5" font-weight="normal" fill="#262626" textLength="44.30" lengthAdjust="spacingAndGlyphs">HSR LC</text>
<rect x="152" y="489.3" width="6.6" height="7.2" fill="#953735"/>
<text x="161.00" y="496.80" font-size="13.5" font-weight="normal" fill="#262626" textLength="53.80" lengthAdjust="spacingAndGlyphs">Auto O/P</text>
<rect x="222.7" y="489.3" width="6.6" height="7.2" fill="url(#pAP)"/>
<text x="231.40" y="496.80" font-size="13.5" font-weight="normal" fill="#262626" textLength="46.10" lengthAdjust="spacingAndGlyphs">Auto LC</text>
<rect x="284.3" y="489.3" width="6.6" height="7.2" fill="#604a7b"/>
<text x="293.20" y="496.80" font-size="13.5" font-weight="normal" fill="#262626" textLength="45.10" lengthAdjust="spacingAndGlyphs">Air O/P</text>
<rect x="345" y="489.3" width="6.6" height="7.2" fill="url(#pIW)"/>
<text x="354.60" y="496.80" font-size="13.5" font-weight="normal" fill="#262626" textLength="35.70" lengthAdjust="spacingAndGlyphs">Air LC</text>
<line x1="403" y1="493.2" x2="420" y2="493.2" stroke="#d99694" stroke-width="2.4"/>
<text x="429.80" y="496.80" font-size="13.5" font-weight="normal" fill="#262626" textLength="218.20" lengthAdjust="spacingAndGlyphs">Cumulative (CAHSR Authority Forecasts)</text>
<line x1="659.7" y1="493.2" x2="677" y2="493.2" stroke="#fac090" stroke-width="2.4"/>
<text x="685.60" y="496.80" font-size="13.5" font-weight="normal" fill="#262626" textLength="122.40" lengthAdjust="spacingAndGlyphs">Cumulative (Sensitivity)</text>
<rect x="278.1" y="161.6" width="49.6" height="11" fill="#fff"/>
<text x="279.60" y="170.10" font-size="10" font-weight="normal" fill="#a0504e" textLength="46.60" lengthAdjust="spacingAndGlyphs">H: 33m (62)</text>
<rect x="277.5" y="171.9" width="50.2" height="11" fill="#fff"/>
<text x="279.00" y="180.40" font-size="10" font-weight="normal" fill="#a0504e" textLength="47.20" lengthAdjust="spacingAndGlyphs">M: 26m (50)</text>
<rect x="280.5" y="182.3" width="47.2" height="11" fill="#fff"/>
<text x="282.00" y="190.80" font-size="10" font-weight="normal" fill="#a0504e" textLength="44.20" lengthAdjust="spacingAndGlyphs">L: 20m (38)</text>
<rect x="290.9" y="193.4" width="36.8" height="11" fill="#fff"/>
<text x="292.40" y="201.90" font-size="10" font-weight="normal" fill="#e0782c" textLength="33.80" lengthAdjust="spacingAndGlyphs">15m (27)</text>
<rect x="290.9" y="216.5" width="36.8" height="11" fill="#fff"/>
<text x="292.40" y="225.00" font-size="10" font-weight="normal" fill="#e0782c" textLength="33.80" lengthAdjust="spacingAndGlyphs">10m (14)</text>
<rect x="292.1" y="326.3" width="35.6" height="11" fill="#fff"/>
<text x="293.60" y="334.80" font-size="10" font-weight="normal" fill="#e0782c" textLength="32.60" lengthAdjust="spacingAndGlyphs">5m (0.8)</text>
<rect x="666.1" y="187.7" width="60.0" height="11" fill="#fff"/>
<text x="667.60" y="196.20" font-size="10" font-weight="normal" fill="#a0504e" textLength="57.00" lengthAdjust="spacingAndGlyphs">H: 33m (6200)</text>
<rect x="666.1" y="198.3" width="60.0" height="11" fill="#fff"/>
<text x="667.60" y="206.80" font-size="10" font-weight="normal" fill="#a0504e" textLength="57.00" lengthAdjust="spacingAndGlyphs">M: 26m (4800)</text>
<rect x="668.7" y="208.8" width="57.4" height="11" fill="#fff"/>
<text x="670.20" y="217.30" font-size="10" font-weight="normal" fill="#a0504e" textLength="54.40" lengthAdjust="spacingAndGlyphs">L: 20m (3400)</text>
<rect x="679.8" y="233.0" width="46.3" height="11" fill="#fff"/>
<text x="681.30" y="241.50" font-size="10" font-weight="normal" fill="#e0782c" textLength="43.30" lengthAdjust="spacingAndGlyphs">15m (1900)</text>
<rect x="684.3" y="285.8" width="41.8" height="11" fill="#fff"/>
<text x="685.80" y="294.30" font-size="10" font-weight="normal" fill="#e0782c" textLength="38.80" lengthAdjust="spacingAndGlyphs">10m (370)</text>
<rect x="704.5" y="411.5" width="46.5" height="11" fill="#fff"/>
<text x="706.00" y="420.00" font-size="10" font-weight="normal" fill="#e0782c" textLength="43.50" lengthAdjust="spacingAndGlyphs">5m (-1200)</text>
</svg></body></html>
